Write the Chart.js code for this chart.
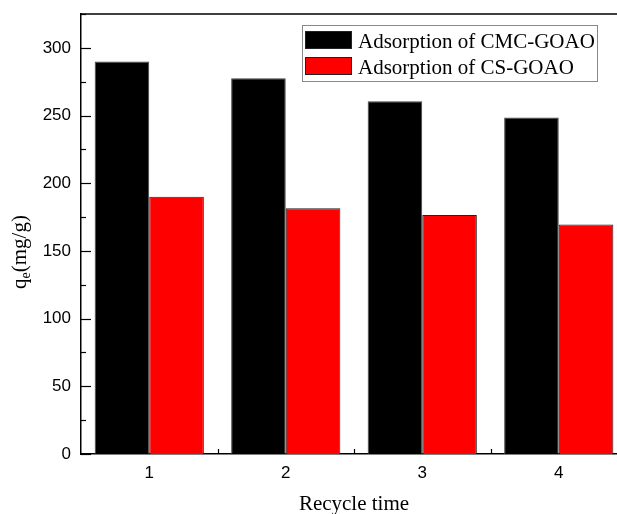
<!DOCTYPE html>
<html>
<head>
<meta charset="utf-8">
<script src="https://cdn.jsdelivr.net/npm/chart.js@4/dist/chart.umd.min.js"></script>
<style>
html,body{margin:0;padding:0;background:#fff;overflow:hidden;width:617px;height:514px;}
#wrap{position:absolute;left:0;top:0;width:640px;height:514px;}
</style>
</head>
<body>
<div id="wrap"><canvas id="c" width="640" height="514"></canvas></div>
<script>
const categories = ['1', '2', '3', '4'];
const cmcValues = [290, 277.5, 260.5, 248.5];
const csValues = [190, 181.5, 176.5, 169.5];
const yTicks = [0, 50, 100, 150, 200, 250, 300];
const seriesLabels = ['Adsorption of CMC-GOAO', 'Adsorption of CS-GOAO'];
const xTitle = 'Recycle time';

const serif = '"Liberation Serif", "Times New Roman", serif';
const sans = '"Liberation Sans", Arial, sans-serif';

const decor = {
  id: 'decor',
  afterDatasetsDraw(chart) {
    const ctx = chart.ctx;
    const a = chart.chartArea;
    const ys = chart.scales.y, xs = chart.scales.x;
    ctx.save();
    ctx.strokeStyle = '#000';
    ctx.lineWidth = 1.5;
    ctx.beginPath();
    ctx.moveTo(a.left, a.top);
    ctx.lineTo(a.right, a.top);
    ctx.stroke();
    ctx.beginPath();
    ctx.moveTo(a.right, a.top);
    ctx.lineTo(a.right, a.bottom);
    ctx.stroke();
    ctx.lineWidth = 1.2;
    for (let v = 0; v <= ys.max; v += 25) {
      const y = Math.round(ys.getPixelForValue(v)) + 0.5;
      const len = (v % 50 === 0) ? 10 : 5;
      ctx.beginPath();
      ctx.moveTo(a.left, y);
      ctx.lineTo(a.left + len, y);
      ctx.stroke();
    }
    for (let i = 0; i < categories.length - 1; i++) {
      const x = Math.round((xs.getPixelForValue(i) + xs.getPixelForValue(i + 1)) / 2) + 0.5;
      ctx.beginPath();
      ctx.moveTo(x, a.bottom);
      ctx.lineTo(x, a.bottom - 5);
      ctx.stroke();
    }
    const lx = 302.5, ly = 25.5, lw = 295, lh = 56;
    ctx.fillStyle = '#fff';
    ctx.fillRect(lx, ly, lw, lh);
    ctx.strokeStyle = '#888';
    ctx.lineWidth = 1;
    ctx.strokeRect(lx, ly, lw, lh);
    chart.data.datasets.forEach((ds, i) => {
      const sy = 31 + i * 26;
      ctx.fillStyle = ds.backgroundColor;
      ctx.fillRect(305, sy, 47, 18);
      ctx.strokeStyle = '#222';
      ctx.strokeRect(305.5, sy + 0.5, 46, 17);
      ctx.fillStyle = '#000';
      ctx.font = '21px ' + serif;
      ctx.textBaseline = 'alphabetic';
      ctx.textAlign = 'left';
      ctx.fillText(ds.label, 358, 47.5 + i * 26.5);
    });
    ctx.save();
    ctx.translate(25.5, 252);
    ctx.rotate(-Math.PI / 2);
    ctx.fillStyle = '#000';
    ctx.textBaseline = 'alphabetic';
    const big = '21px ' + serif, small = '14px ' + serif;
    ctx.font = big; const w1 = ctx.measureText('q').width;
    ctx.font = small; const w2 = ctx.measureText('e').width;
    ctx.font = big; const w3 = ctx.measureText('(mg/g)').width;
    let x0 = -(w1 + w2 + w3) / 2;
    ctx.textAlign = 'left';
    ctx.font = big; ctx.fillText('q', x0, 0);
    ctx.font = small; ctx.fillText('e', x0 + w1, 4);
    ctx.font = big; ctx.fillText('(mg/g)', x0 + w1 + w2, 0);
    ctx.restore();
    ctx.font = '21px ' + serif;
    ctx.textAlign = 'center';
    ctx.fillStyle = '#000';
    ctx.fillText(xTitle, (a.left + a.right) / 2, 510);
    ctx.restore();
  }
};

new Chart(document.getElementById('c'), {
  type: 'bar',
  data: {
    labels: categories,
    datasets: [
      { label: seriesLabels[0], data: cmcValues, backgroundColor: '#000000', borderColor: '#444', borderWidth: 1 },
      { label: seriesLabels[1], data: csValues, backgroundColor: '#ff0000', borderColor: '#222', borderWidth: 1 }
    ]
  },
  options: {
    responsive: false,
    animation: false,
    devicePixelRatio: 1,
    layout: { padding: { top: 14, right: 13, left: 0, bottom: 0 } },
    plugins: { legend: { display: false }, tooltip: { enabled: false }, title: { display: false } },
    datasets: { bar: { categoryPercentage: 0.8, barPercentage: 1.0 } },
    scales: {
      x: {
        type: 'category',
        offset: true,
        grid: { display: false, drawTicks: false },
        border: { display: true, color: '#000', width: 1.5 },
        ticks: { color: '#000', font: { family: sans, size: 17 }, padding: 9 },
        afterFit(s) { s.height = 60; s.paddingLeft = 0; s.paddingRight = 0; }
      },
      y: {
        min: 0, max: 325,
        afterBuildTicks(s) { s.ticks = yTicks.map(v => ({ value: v })); },
        grid: { display: false, drawTicks: false },
        border: { display: true, color: '#000', width: 1.5 },
        ticks: { color: '#000', font: { family: sans, size: 17 }, padding: 10 },
        afterFit(s) { s.width = 81; s.paddingTop = 0; s.paddingBottom = 0; }
      }
    }
  },
  plugins: [decor]
});
</script>
</body>
</html>
